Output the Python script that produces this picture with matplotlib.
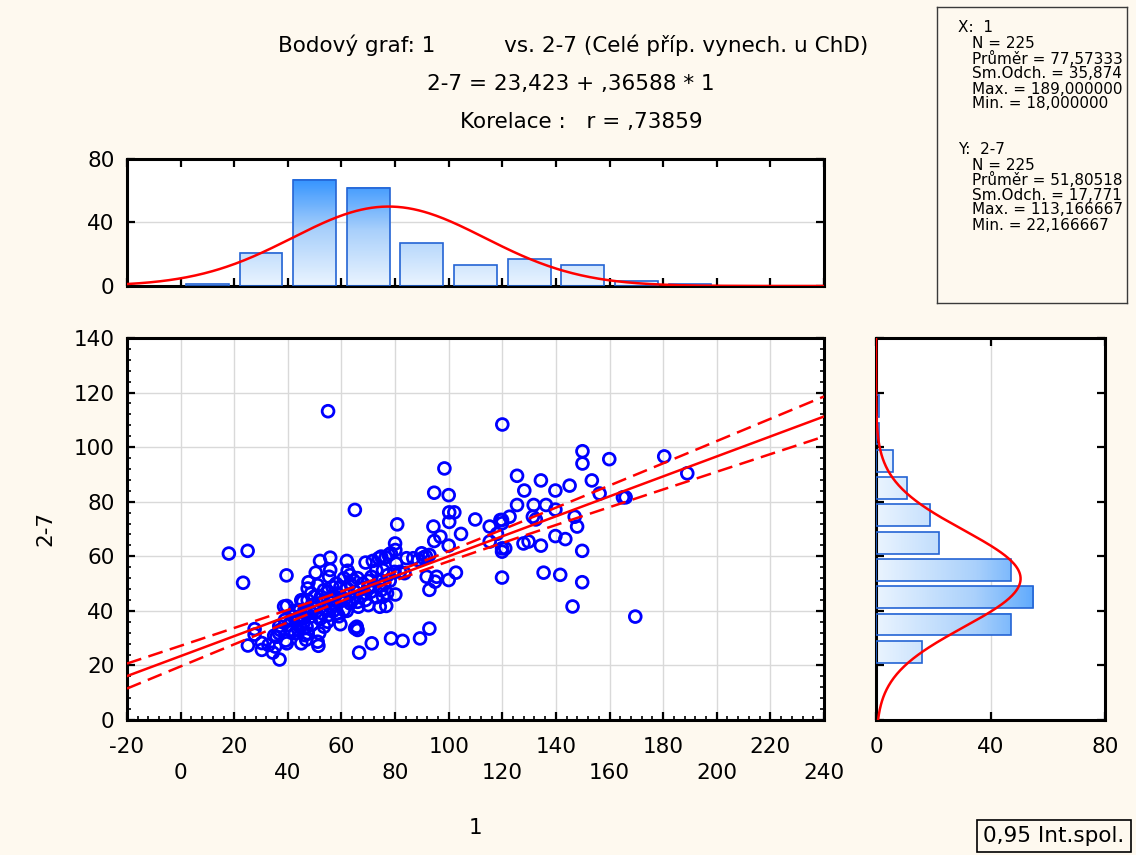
import numpy as np
import matplotlib.pyplot as plt
from matplotlib.colors import LinearSegmentedColormap
from matplotlib.patches import Rectangle
from matplotlib.ticker import MultipleLocator

# ======================== data

x_vals = [
    # right part of the cloud
    120, 149.9, 149.9, 159.9, 180.4, 189, 125.5, 128.2, 134.4, 139.8, 145.1, 153.4, 156.3, 165, 166,
    125.5, 131.7, 131.4, 132.5, 136.3, 139.8, 147, 147.9, 122.7, 119.9, 119.3, 119.9, 115.3, 118, 109.9,
    104.6, 100.2, 100, 96.9, 100, 100.2, 102.1, 98.4, 115.3, 119.9, 121.1, 119.9, 127.9, 129.8, 134.4,
    139.8, 143.5, 149.8, 119.9, 135.4, 141.6, 149.8, 146.2, 169.6, 102.7, 100,
    # left part
    18, 25, 23.3, 55, 65, 39.5, 27.6, 27.6, 25.1, 30.3, 30.3, 32.8, 34.4, 35.3, 36.9, 34.9, 36.8,
    38.6, 39.6, 39.2, 39.6, 41.6, 45, 45.6, 47.7, 50.4, 52, 55.8, 55.8, 55.4, 51.1, 51.4, 51.7, 62,
    62.3, 63.2, 65.1, 66, 66.6, 69, 71.3, 71.7, 73.9, 74.8, 76.5, 77.6, 78.4, 80, 80.1, 80.8, 78.5,
    82.8, 89.3, 92.8, 80.1, 84.3, 86.8, 88.6, 89.9, 90.5, 92.8, 91.8, 92.8, 94.9, 95.5, 94.6, 94.3, 94.6,
    # dense middle
    64.5, 80.4, 73, 75.5, 74.3, 77.3, 79.8, 71.2, 70, 68.8, 74.9, 75.5, 77, 74.3, 76.7, 70, 66.3, 66,
    65.7, 59.6,
    63.3, 60.9, 58.4, 59.6, 57.2, 56, 62.1, 63.3, 60.9, 59.6, 58.4, 56.6, 53.5, 52.3, 51.1, 49.9, 48.7,
    47.4, 48, 50.5, 52.9, 55.4, 54.8, 53.5, 47.4, 46.8, 48.7, 51.1, 47.4, 45, 46.2,
    40.8, 42.7, 43.9, 44.5, 46.4, 47, 45.8, 43.3, 41.4, 40.2, 47, 44.5, 42.7, 38.9, 37.1, 35.8, 36.7,
    91.5, 81.8, 83.5,
    42, 44, 46, 49, 50, 52, 53, 54, 56, 57, 58, 59, 60, 61, 62, 63, 64, 65, 67, 68, 69, 70, 72, 73,
    76, 78, 55, 58, 66, 71,
]
y_vals = [
    108.3, 98.5, 94, 95.6, 96.6, 90.4, 89.5, 84.1, 87.8, 84.1, 85.9, 87.8, 83, 81.6, 81.6,
    78.8, 78.8, 74.5, 73.5, 78.8, 77.1, 74.5, 70.9, 74.5, 73.3, 73.3, 72.1, 70.9, 68.2, 73.5,
    68.2, 72.6, 63.9, 67.2, 82.4, 76.1, 76.1, 92.2, 65.4, 62.9, 62.9, 61.7, 64.7, 65.4, 63.9,
    67.4, 66.3, 62, 52.2, 54, 53.2, 50.5, 41.6, 37.9, 54, 51.3,
    61, 62, 50.3, 113.17, 77, 53, 33.3, 31.3, 27.3, 28.2, 25.7, 27.5, 24.7, 26.9, 22.17, 30.9, 34.4,
    41.6, 41.8, 29.1, 28.1, 32.4, 28.1, 43.4, 50.5, 54, 58.3, 59.5, 55, 52.5, 28.7, 27.2, 31.8, 58.3,
    54.7, 53.1, 33.6, 33, 24.7, 57.7, 28.1, 58.3, 59.3, 59.9, 59.6, 60.5, 61.1, 64.7, 62.3, 71.7, 29.9,
    29, 29.9, 33.5, 46, 59.3, 59.3, 58.6, 61.1, 59.5, 60.5, 52.5, 47.7, 50.7, 52.5, 65.6, 70.9, 83.3,
    51.2, 57.3, 54.9, 54.9, 51.2, 53.1, 54.3, 52.5, 48.8, 46.4, 47.6, 45.2, 46.4, 41.5, 41.8, 42.1, 41.5, 43.3,
    34.2, 35.1,
    42.7, 40.3, 39.1, 43.9, 43.9, 41.5, 48.2, 50, 51.9, 48.8, 46.4, 48.8, 47.6, 45.2, 42.7, 45.2, 46.4,
    43.9, 40.3, 39.7, 39.1, 38.5, 36, 34.2, 31.8, 29.4, 37.9, 49.4, 48.2, 43.9, 40.3,
    33, 31.8, 33, 34.2, 31.1, 34.2, 37.3, 36.6, 36.6, 34.8, 39.1, 40.3, 40, 36.6, 33, 30.5, 31.8,
    60, 54.3, 53.8,
    38, 37.5, 36, 35, 41, 37, 43, 41, 45, 40, 42, 38, 45, 44, 40, 46, 44, 47, 45, 50, 44, 51, 49, 45,
    50, 51, 47, 50, 52, 47,
]

# histogram counts (bins of 20 for X, 10 for Y)
x_bin_starts = [0, 20, 40, 60, 80, 100, 120, 140, 160, 180]
x_counts = [1, 21, 67, 62, 27, 13, 17, 13, 3, 1]
y_bin_starts = [20, 30, 40, 50, 60, 70, 80, 90, 100, 110]
y_counts = [16, 47, 55, 47, 22, 19, 11, 6, 1, 1]

# summary stats printed on the chart
n = 225
mean_x, sd_x = 77.57333, 35.874
mean_y, sd_y = 51.80518, 17.771
intercept, slope, r = 23.423, 0.36588, 0.73859

x_ticks = list(range(-20, 241, 20))

# ======================== style
bg = "#fef9ef"
grid_col = "#d9d9d9"
bar_cmap = LinearSegmentedColormap.from_list("bars", ["#eaf4ff", "#a9d0fb", "#2b8fff"])
bar_edge = "#2464d4"
fs = 15.5

plt.rcParams["font.family"] = "DejaVu Sans"
fig = plt.figure(figsize=(11.36, 8.55), dpi=100, facecolor=bg)
W, H = 1136, 855


def px_axes(l, t, r, b):
    return fig.add_axes([l / W, 1 - b / H, (r - l) / W, (b - t) / H])


def style_spines(ax):
    for s in ax.spines.values():
        s.set_linewidth(2.2)
        s.set_color("black")


def normal_pdf(v, m, s):
    return np.exp(-0.5 * ((v - m) / s) ** 2) / (s * np.sqrt(2 * np.pi))


# ======================== main scatter
ax = px_axes(127, 338, 824, 720)
ax.set_xlim(-20, 240)
ax.set_ylim(0, 140)
ax.xaxis.set_major_locator(MultipleLocator(20))
ax.xaxis.set_minor_locator(MultipleLocator(4))
ax.yaxis.set_major_locator(MultipleLocator(20))
ax.yaxis.set_minor_locator(MultipleLocator(4))
ax.grid(which="major", color=grid_col, lw=1, zorder=0)
ax.set_axisbelow(True)
style_spines(ax)
ax.tick_params(which="both", direction="in", right=True, top=False, labelsize=fs)
ax.tick_params(which="major", length=6, width=1.6)
ax.tick_params(which="minor", length=3, width=1.2)
ax.tick_params(axis="x", pad=12)
ax.tick_params(axis="y", pad=9)
labels = [str(t) if i % 2 == 0 else "\n" + str(t) for i, t in enumerate(x_ticks)]
ax.set_xticks(x_ticks, labels)
for lbl in ax.get_xticklabels():
    lbl.set_linespacing(1.4)

ax.scatter(x_vals, y_vals, s=72, facecolors="none", edgecolors="#0000ff", linewidths=2.0, zorder=3)

xs = np.linspace(-20, 240, 300)
fit = intercept + slope * xs
s_res = sd_y * np.sqrt(1 - r ** 2) * np.sqrt((n - 1) / (n - 2))
sxx = (n - 1) * sd_x ** 2
half = 1.9706 * s_res * np.sqrt(1 / n + (xs - mean_x) ** 2 / sxx)
ax.plot(xs, fit, color="#ff0000", lw=1.8, zorder=4)
ax.plot(xs, fit + half, color="#ff0000", lw=1.8, ls=(0, (6, 3)), zorder=4)
ax.plot(xs, fit - half, color="#ff0000", lw=1.8, ls=(0, (6, 3)), zorder=4)

# ======================== top histogram (X)
ax_t = px_axes(127, 159, 824, 286)
ax_t.set_facecolor("white")
for x0, c in zip(x_bin_starts, x_counts):
    b0, bw = x0 + 2, 16
    grad = np.linspace(0, c, 100).reshape(-1, 1)
    ax_t.imshow(grad, extent=[b0, b0 + bw, 0, c], origin="lower", cmap=bar_cmap,
                vmin=0, vmax=70, aspect="auto", zorder=2)
    ax_t.add_patch(Rectangle((b0, 0), bw, c, fill=False, ec=bar_edge, lw=1.2, zorder=3))
xt = np.linspace(-20, 240, 400)
ax_t.plot(xt, n * 20 * normal_pdf(xt, mean_x, sd_x), color="#ff0000", lw=1.8, zorder=4)
ax_t.set_xlim(-20, 240)
ax_t.set_ylim(0, 80)
ax_t.set_xticks(x_ticks)
ax_t.set_yticks([0, 40, 80])
ax_t.grid(axis="y", color=grid_col, lw=1)
ax_t.set_axisbelow(True)
style_spines(ax_t)
ax_t.tick_params(direction="in", top=True, right=True, length=6, width=1.6,
                 labelbottom=False, labelsize=fs, pad=9)

# ======================== right histogram (Y)
ax_r = px_axes(876, 338, 1105, 720)
for y0, c in zip(y_bin_starts, y_counts):
    b0, bh = y0 + 1, 8
    grad = np.linspace(0, c, 100).reshape(1, -1)
    ax_r.imshow(grad, extent=[0, c, b0, b0 + bh], origin="lower", cmap=bar_cmap,
                vmin=0, vmax=70, aspect="auto", zorder=2)
    ax_r.add_patch(Rectangle((0, b0), c, bh, fill=False, ec=bar_edge, lw=1.2, zorder=3))
yr = np.linspace(0, 140, 400)
ax_r.plot(n * 10 * normal_pdf(yr, mean_y, sd_y), yr, color="#ff0000", lw=1.8, zorder=4)
ax_r.set_xlim(0, 80)
ax_r.set_ylim(0, 140)
ax_r.set_xticks([0, 40, 80])
ax_r.set_yticks(range(0, 141, 20))
ax_r.grid(axis="x", color=grid_col, lw=1)
ax_r.set_axisbelow(True)
style_spines(ax_r)
ax_r.tick_params(direction="in", top=True, right=True, length=6, width=1.6,
                 labelleft=False, labelsize=fs, pad=12)

# ======================== texts
fig.text(573 / W, 1 - 45 / H, "Bodový graf: 1          vs. 2-7 (Celé příp. vynech. u ChD)",
         ha="center", va="center", fontsize=fs)
fig.text(571 / W, 1 - 84 / H, "2-7 = 23,423 + ,36588 * 1", ha="center", va="center", fontsize=fs)
fig.text(581 / W, 1 - 122 / H, "Korelace :   r = ,73859", ha="center", va="center", fontsize=fs)
fig.text(475 / W, 1 - 828 / H, "1", ha="center", va="center", fontsize=fs)
fig.text(45 / W, 1 - 528 / H, "2-7", ha="center", va="center", rotation=90, fontsize=fs)

# stats box
ax_s = px_axes(937, 7, 1127, 303)
ax_s.set_facecolor(bg)
ax_s.set_xticks([])
ax_s.set_yticks([])
for s in ax_s.spines.values():
    s.set_linewidth(1)
    s.set_color("#3a3a3a")
stat_lines = [
    (958, 28, "X:  1"),
    (972, 44, "N = %d" % n),
    (972, 59, "Průměr = 77,57333"),
    (972, 74, "Sm.Odch. = 35,874"),
    (972, 89, "Max. = 189,000000"),
    (972, 104, "Min. = 18,000000"),
    (958, 149, "Y:  2-7"),
    (972, 165, "N = %d" % n),
    (972, 180, "Průměr = 51,80518"),
    (972, 195, "Sm.Odch. = 17,771"),
    (972, 210, "Max. = 113,166667"),
    (972, 225, "Min. = 22,166667"),
]
for tx, ty, s in stat_lines:
    ax_s.text((tx - 937) / 190, (303 - ty) / 296, s, transform=ax_s.transAxes,
              ha="left", va="center", fontsize=11, clip_on=True)

fig.text(983 / W, 1 - 836 / H, "0,95 Int.spol.", ha="left", va="center", fontsize=fs,
         bbox=dict(boxstyle="square,pad=0.3", fc=bg, ec="black", lw=1.2))

plt.savefig("out.png", dpi=100, facecolor=bg)
